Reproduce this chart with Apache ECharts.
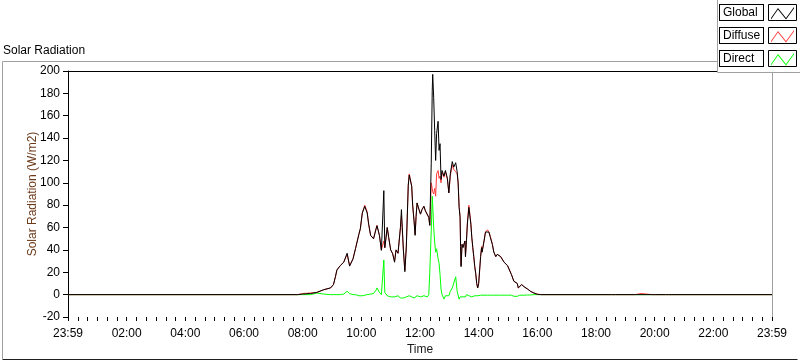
<!DOCTYPE html>
<html lang="en">
<head>
    <meta charset="utf-8">
    <title>Solar Radiation</title>
    <script src="https://cdn.jsdelivr.net/npm/echarts@6/dist/echarts.min.js"></script>
    <style>
        html, body { margin: 0; padding: 0; background: #fff; }
        #main { width: 800px; height: 361px; }
    </style>
</head>
<body>
<div id="main"></div>
<script type="text/javascript">
// minutes since midnight (0 and 1440 are shown as 23:59)
var times = [0, 470, 480, 496, 509, 523, 537, 543, 547, 550, 557, 564, 571, 576, 583, 588, 595, 598, 602, 607,
    612, 615, 619, 625, 630, 632, 637, 641, 646, 648, 653, 656, 660, 664, 668, 671, 675, 680, 682, 686,
    689, 692, 696, 698, 703, 705, 708, 710, 712, 714, 718, 721, 724, 728, 731, 735, 738, 740, 743, 745,
    746, 748, 750, 752, 754, 757, 759, 761, 763, 765, 769, 772, 776, 779, 782, 786, 789, 793, 796, 798,
    800, 802, 803, 804, 806, 808, 812, 813, 815, 817, 820, 822, 824, 826, 828, 830, 832, 834, 836, 838,
    839, 840, 842, 844, 846, 847, 851, 854, 858, 861, 864, 868, 871, 875, 878, 881, 885, 892, 899, 903,
    907, 912, 916, 919, 921, 924, 928, 933, 940, 946, 953, 960, 967, 1112, 1116, 1120, 1160, 1163, 1172, 1175,
    1195, 1198, 1201, 1222, 1225, 1228, 1440];

var globalVals = [0, 0, 0.5, 1, 2, 4.4, 6, 9, 16, 22, 26, 29, 37, 25.5, 32, 41, 54, 59, 73, 79,
    73, 63, 53, 50, 58.6, 61.6, 53, 39.6, 93, 42, 60, 51, 40, 36.6, 29, 40, 37, 60, 76, 40,
    20.5, 42.5, 98, 107, 97, 80, 65, 53, 70, 82, 76, 72, 76, 79, 75, 76, 69, 62, 117, 182,
    197, 176, 147, 120, 144, 155, 129, 135, 103, 111, 106, 111, 104, 91, 108, 119, 114, 118, 110, 100,
    78, 69, 43, 25, 45, 42, 48, 34, 48, 64, 78, 79, 63, 51, 42, 34, 25, 19, 10, 6,
    4.4, 10, 22, 34, 42, 38, 48, 56, 57, 56, 51, 45, 38, 34, 36, 35, 34, 29, 26, 25,
    18, 12, 12, 10, 6, 7, 9, 7, 5, 3, 1.4, 0.3, 0, 0, 0, 0, 0, 0, 0, 0,
    0, 0.8, 0, 0, 0.8, 0, 0];

var diffuseVals = [0, 0, 1, 1.5, 2, 4.4, 6, 9, 16, 22, 26, 29, 36, 26, 32, 41, 54, 59, 73, 80,
    74, 63, 53, 50, 59, 62, 53, 40, 48, 42, 60, 51, 40, 37, 30, 40, 37, 60, 70, 40,
    22, 43, 98, 108, 97, 80, 65, 54, 70, 82, 76, 72, 76, 79, 75, 76, 69, 62, 100, 95,
    92, 90, 95, 88, 108, 111, 104, 106, 100, 109, 105, 110, 103, 91, 106, 116, 112, 110, 108, 100,
    79, 70, 44, 26, 45, 43, 48, 34, 48, 65, 80, 80, 64, 51, 42, 34, 25, 19, 10, 6,
    5, 10, 22, 34, 43, 38, 48, 56, 58, 56, 52, 45, 38, 34, 36, 35, 34, 29, 26, 25,
    18, 12, 12, 10, 6, 7, 9, 7, 5, 3, 1.5, 0.5, 0, 0, 0, 0, 0, 1, 1, 0,
    0, 0.8, 0, 0, 0.8, 0, 0];

var directVals = [0, 0, 0, 0, 1.4, 0.5, 0, 0, 0, 0, 0, 0.5, 3, 1, 0, 0, -1, -1, -1, -0.5,
    0, 0, 0.5, 1, 4, 6, 2, 0, 31, 2, -1, -1, -2, -2, -2, -1, -1, -3, -2, -3,
    -4, -2, -1, -1, -2, -2, -3, -3, -2, -1, -1, -2, -2, -1, -1, -2, 0, 20, 57, 88,
    80, 60, 47, 38, 41, 32, 28, 18, 5, 0, -4, -1, -2, -1, 3, 6, 5, 16, 3, 2,
    -4, -2, -1, -1, -2, -2, -3, -2, 0, -1, -1, -1, -2, -2, -1, -1, -1, -1, -0.5, -1,
    -1, -1, -0.5, -0.5, -1, -0.5, -0.5, -0.5, -0.5, -0.5, -0.5, -0.5, -0.5, -0.5, -0.5, -0.5, -0.5, -0.5, -0.5, -0.5,
    -0.5, -1.5, -1, -1.5, -1, -0.5, -0.5, -0.5, -0.3, -0.3, 0, 0, 0, 0, 0.8, 0, 0, 0, 0, 0,
    0, 0, 0, 0, 0, 0, 0];

var seriesNames = ['Global', 'Diffuse', 'Direct'];
var seriesColors = ['#000000', '#ff3c3c', '#00ff00'];
var yTicks = { min: -20, max: 200, step: 20 };
var xTicks = { min: 0, max: 1440, step: 120 };

var font = '"Liberation Sans", Arial, sans-serif';

function pairs(vals) {
    var out = [];
    for (var i = 0; i < times.length; i++) {
        out.push([times[i], vals[i]]);
    }
    return out;
}

function timeLabel(v) {
    if (v <= 0 || v >= 1440) return '23:59';
    var h = Math.round(v / 60);
    return (h < 10 ? '0' : '') + h + ':00';
}

var myChart = echarts.init(document.getElementById('main'), null, { renderer: 'canvas' });

// little zigzag used as legend sample, with the frame size as bounding box
var zigzag = 'path://M0,0 M29,17 M3,14 L10,4 L18,14 L26,3 L26,4.6 L18,15.6 L10,5.6 L3,15.6 Z';

var allVals = [globalVals, diffuseVals, directVals];
var series = [];
for (var s = 0; s < seriesNames.length; s++) {
    series.push({
        name: seriesNames[s],
        type: 'line',
        data: pairs(allVals[s]),
        showSymbol: false,
        symbol: 'none',
        z: 4 - s,
        lineStyle: { color: seriesColors[s], width: 1 },
        itemStyle: { color: seriesColors[s] },
        emphasis: { disabled: true }
    });
}

var legendTop = 4, legendPitch = 23;
var legendFrames = [];
for (var k = 0; k < seriesNames.length; k++) {
    legendFrames.push({
        type: 'rect',
        z: 6,
        silent: true,
        shape: { x: 768.5, y: legendTop + 0.5 + k * legendPitch, width: 28, height: 16 },
        style: { fill: 'none', stroke: '#000', lineWidth: 1 }
    });
}

var option = {
    animation: false,
    title: {
        text: 'Solar Radiation',
        left: 3,
        top: 45,
        padding: 0,
        textStyle: { fontSize: 12, fontWeight: 'normal', fontFamily: font, color: '#000' }
    },
    legend: {
        data: seriesNames,
        orient: 'vertical',
        right: 3,
        top: legendTop,
        padding: 0,
        itemGap: legendPitch - 17,
        align: 'right',
        itemWidth: 29,
        itemHeight: 17,
        icon: zigzag,
        itemStyle: { borderWidth: 0 },
        z: 5,
        formatter: function (name) { return '{a|' + name + '}'; },
        textStyle: {
            fontSize: 12,
            fontFamily: font,
            color: '#000',
            padding: [1, 3, 1, 3],
            borderColor: '#000',
            borderWidth: 1,
            backgroundColor: '#fff',
            rich: {
                a: { width: 37, height: 13, lineHeight: 13, align: 'left', fontSize: 12, fontFamily: font, color: '#000' }
            }
        }
    },
    grid: {
        left: 68,
        right: 28,
        top: 71,
        bottom: 40,
        show: true,
        backgroundColor: '#fff',
        borderWidth: 0
    },
    xAxis: [{
        type: 'value',
        min: xTicks.min,
        max: xTicks.max,
        interval: xTicks.step,
        position: 'bottom',
        name: 'Time',
        nameLocation: 'middle',
        nameGap: 27,
        nameMoveOverlap: false,
        nameTextStyle: { fontSize: 12, fontFamily: font, color: '#1a1a1a' },
        axisLine: { show: false, onZero: false },
        axisTick: { show: true, length: 4, lineStyle: { color: '#000' } },
        minorTick: { show: true, splitNumber: 6, length: 4, lineStyle: { color: '#000' } },
        splitLine: { show: false },
        axisLabel: {
            fontSize: 12,
            fontFamily: font,
            color: '#000',
            margin: 11,
            showMinLabel: true,
            showMaxLabel: true,
            formatter: timeLabel
        }
    }, {
        type: 'value',
        min: xTicks.min,
        max: xTicks.max,
        position: 'top',
        axisLine: { show: true, onZero: false, lineStyle: { color: '#000', width: 1 } },
        axisTick: { show: false },
        axisLabel: { show: false },
        splitLine: { show: false }
    }],
    yAxis: [{
        type: 'value',
        min: yTicks.min,
        max: yTicks.max,
        interval: yTicks.step,
        name: 'Solar Radiation (W/m2)',
        nameLocation: 'middle',
        nameGap: 29,
        nameMoveOverlap: false,
        nameTextStyle: { fontSize: 12, fontFamily: font, color: '#6b3a1a' },
        axisLine: { show: true, onZero: false, lineStyle: { color: '#000', width: 1 } },
        axisTick: { show: true, length: 5, lineStyle: { color: '#000' } },
        splitLine: { show: false },
        axisLabel: { fontSize: 12, fontFamily: font, color: '#000', margin: 8 }
    }, {
        type: 'value',
        min: yTicks.min,
        max: yTicks.max,
        position: 'right',
        axisLine: { show: true, onZero: false, lineStyle: { color: '#a0a0a0', width: 1 } },
        axisTick: { show: false },
        axisLabel: { show: false },
        splitLine: { show: false }
    }],
    graphic: [{
        // outer panel frame
        type: 'polyline',
        z: 1,
        silent: true,
        shape: { points: [[797.5, 61.5], [2.5, 61.5], [2.5, 359]] },
        style: { fill: 'none', stroke: '#a0a0a0', lineWidth: 1 }
    }, {
        type: 'polyline',
        z: 1,
        silent: true,
        shape: { points: [[2.5, 359.5], [797.5, 359.5]] },
        style: { fill: 'none', stroke: '#202020', lineWidth: 1 }
    }, {
        // legend panel
        type: 'rect',
        z: 3,
        silent: true,
        shape: { x: 717, y: 0, width: 83, height: 72 },
        style: { fill: '#fff' }
    }, {
        type: 'polyline',
        z: 3,
        silent: true,
        shape: { points: [[717.5, 0], [717.5, 72.5], [800, 72.5]] },
        style: { fill: 'none', stroke: '#a0a0a0', lineWidth: 1 }
    }].concat(legendFrames),
    series: series
};

myChart.setOption(option);
window.addEventListener("resize", () => { myChart.resize(); });
</script>
</body>
</html>
